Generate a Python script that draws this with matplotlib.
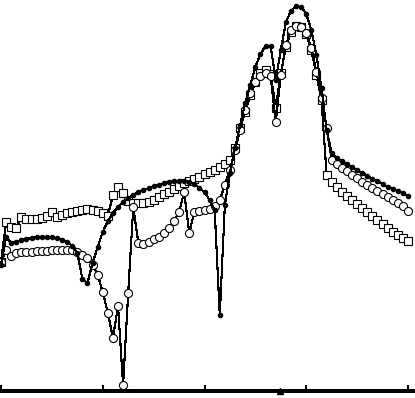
"""Three spectra, open squares / open circles / dots, on a bare x axis."""
import matplotlib
matplotlib.use("Agg")
import matplotlib.pyplot as plt
import numpy as np

plt.rcParams["lines.antialiased"] = False
plt.rcParams["patch.antialiased"] = False

# sampling grid, 0.05 steps from 0 to 4
X = np.round(np.arange(0, 4.001, 0.05), 2)

SQUARES = [
    1.29, 1.69, 1.64, 1.63, 1.74, 1.72, 1.72, 1.72, 1.73, 1.75,
    1.79, 1.74, 1.76, 1.78, 1.79, 1.80, 1.81, 1.82, 1.81, 1.80,
    1.78, 1.75, 1.96, 2.04, 1.98, 1.90, 1.88, 1.88, 1.88, 1.89,
    1.91, 1.94, 1.97, 1.99, 2.02, 2.05, 2.08, 2.10, 2.12, 2.14,
    2.17, 2.19, 2.21, 2.24, 2.27, 2.31, 2.43, 2.63, 2.79, 2.96,
    3.09, 3.18, 3.21, 3.17, 2.83, 3.18, 3.44, 3.59, 3.65, 3.64,
    3.57, 3.41, 3.16, 2.91, 2.16, 2.09, 2.04, 1.99, 1.95, 1.91,
    1.87, 1.83, 1.79, 1.75, 1.71, 1.67, 1.63, 1.59, 1.56, 1.53,
    1.50,
]
CIRCLES = [
    1.29, 1.41, 1.35, 1.38, 1.39, 1.39, 1.39, 1.40, 1.40, 1.40,
    1.41, 1.41, 1.41, 1.41, 1.41, 1.39, 1.36, 1.33, 1.26, 1.16,
    0.99, 0.78, 0.53, 0.85, 0.06, 0.98, 1.84, 1.48, 1.47, 1.49,
    1.52, 1.54, 1.58, 1.63, 1.70, 1.79, 1.99, 1.58, 1.79, 1.80,
    1.81, 1.82, 1.85, 1.91, 2.06, 2.21, 2.41, 2.61, 2.81, 2.98,
    3.09, 3.15, 3.18, 3.15, 2.69, 3.16, 3.46, 3.61, 3.65, 3.64,
    3.58, 3.43, 3.19, 2.93, 2.63, 2.31, 2.27, 2.23, 2.20, 2.16,
    2.13, 2.09, 2.06, 2.03, 2.00, 1.97, 1.94, 1.91, 1.88, 1.85,
    1.80,
]
DOTS = [
    1.26, 1.54, 1.48, 1.49, 1.51, 1.52, 1.53, 1.54, 1.54, 1.54,
    1.54, 1.53, 1.51, 1.49, 1.45, 1.38, 1.12, 1.08, 1.28, 1.44,
    1.59, 1.70, 1.78, 1.84, 1.89, 1.93, 1.96, 1.99, 2.01, 2.03,
    2.05, 2.06, 2.08, 2.09, 2.10, 2.10, 2.10, 2.09, 2.07, 2.03,
    1.99, 1.91, 1.81, 0.76, 1.86, 2.18, 2.43, 2.66, 2.88, 3.06,
    3.24, 3.37, 3.45, 3.45, 3.11, 3.41, 3.69, 3.80, 3.85, 3.84,
    3.77, 3.61, 3.36, 3.03, 2.61, 2.38, 2.33, 2.30, 2.27, 2.24,
    2.21, 2.18, 2.15, 2.12, 2.10, 2.07, 2.04, 2.02, 2.00, 1.98,
    1.95,
]
MARK_X = 2.74
TICKS = [0, 1, 2, 3, 4]


def main() -> None:
    fig = plt.figure(figsize=(4.15, 3.98), dpi=100)
    ax = fig.add_axes([0, 7 / 398, 413 / 415, 391 / 398])

    ax.plot(X, SQUARES, color="black", lw=0.8, marker="s", ms=5.2,
            mfc="white", mec="black", mew=0.8, zorder=2)
    ax.plot(X, CIRCLES, color="black", lw=0.8, marker="o", ms=5.8,
            mfc="white", mec="black", mew=0.8, zorder=3)
    ax.plot(X, DOTS, color="black", lw=0.8, marker="o", ms=3.0,
            mfc="black", mec="black", zorder=4)
    ax.plot([MARK_X], [0], marker="^", ms=4.5, color="black",
            clip_on=False, zorder=5)

    ax.set_xlim(-1 / 101.75, 412 / 101.75)
    ax.set_ylim(0, 3.91)
    ax.set_xticks(TICKS)
    ax.set_xticklabels([])
    ax.set_yticks([])
    ax.tick_params(axis="x", direction="in", length=4.5, width=1.5)
    for side in ("left", "top", "right"):
        ax.spines[side].set_visible(False)
    ax.spines["bottom"].set_linewidth(1.5)
    ax.patch.set_visible(False)

    fig.savefig("out.png", dpi=100)
    plt.close(fig)


if __name__ == "__main__":
    main()
